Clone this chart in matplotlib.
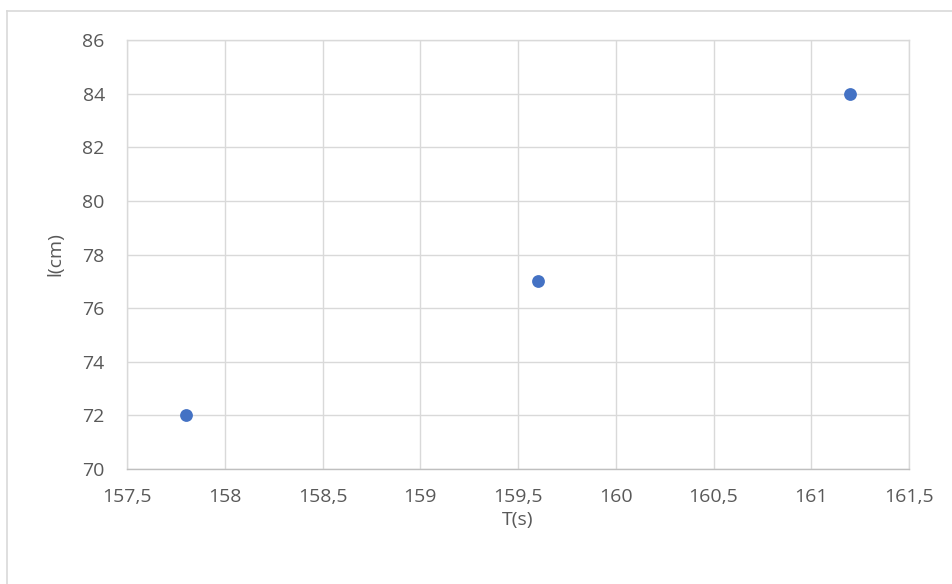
import matplotlib.pyplot as plt
from matplotlib.ticker import FuncFormatter
from matplotlib.lines import Line2D

# data
T = [157.8, 159.6, 161.2]
l_cm = [72, 77, 84]

x_ticks = [157.5, 158, 158.5, 159, 159.5, 160, 160.5, 161, 161.5]
y_ticks = [70, 72, 74, 76, 78, 80, 82, 84, 86]

grey = "#595959"
plt.rcParams['font.family'] = ['Open Sans', 'DejaVu Sans']

fig = plt.figure(figsize=(9.52, 5.84), dpi=100)
ax = fig.add_axes([127 / 952, 1 - 469 / 584, (909 - 127) / 952, (469 - 40) / 584])

ax.scatter(T, l_cm, s=85, color="#4472c4", zorder=3, linewidths=0)

ax.set_xlim(x_ticks[0], x_ticks[-1])
ax.set_ylim(y_ticks[0], y_ticks[-1])
ax.set_xticks(x_ticks)
ax.set_yticks(y_ticks)

comma = FuncFormatter(lambda v, p: ("%g" % v).replace(".", ","))
ax.xaxis.set_major_formatter(comma)
ax.yaxis.set_major_formatter(comma)

ax.grid(True, color="#d9d9d9", linewidth=1)
ax.set_axisbelow(True)
for s in ax.spines.values():
    s.set_color("#d9d9d9")
    s.set_linewidth(1)
ax.spines['bottom'].set_color("#bfbfbf")
ax.tick_params(length=0, labelsize=14, colors=grey)
ax.tick_params(axis='x', pad=14)
ax.tick_params(axis='y', pad=16)

ax.set_xlabel("T(s)", fontsize=14, color=grey, labelpad=3)
ax.set_ylabel("l(cm)", fontsize=14, color=grey, labelpad=13)

# chart frame at left and top (cropped screenshot)
fig.add_artist(Line2D([7 / 952, 7 / 952], [0, 1 - 11 / 584], transform=fig.transFigure, color="#d9d9d9", lw=1.2))
fig.add_artist(Line2D([7 / 952, 1], [1 - 11 / 584, 1 - 11 / 584], transform=fig.transFigure, color="#d9d9d9", lw=1.2))

fig.savefig("out.png", dpi=100)
